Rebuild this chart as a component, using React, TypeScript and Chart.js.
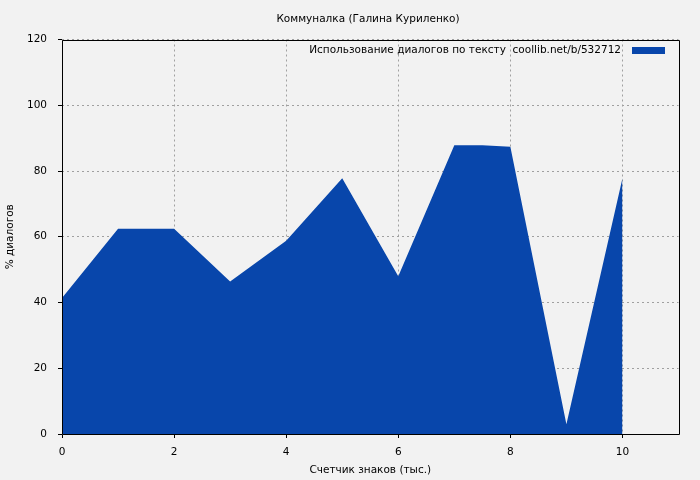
import React, { useEffect, useRef } from 'react';
import { Chart, ChartConfiguration, Plugin, registerables } from 'chart.js';

Chart.register(...registerables);

const chartTitle = 'Коммуналка (Галина Куриленко)';
const seriesLabel = 'Использование диалогов по тексту  coollib.net/b/532712';
const xAxisTitle = 'Счетчик знаков (тыс.)';
const yAxisTitle = '% диалогов';

// thousands of characters
const charCounts = [0, 1, 2, 3, 4, 5, 6, 7, 7.5, 8, 9, 10];
// percent of dialogue
const dialogPercent = [41.4, 62.4, 62.4, 46.4, 58.8, 77.8, 48.0, 87.8, 87.8, 87.4, 3.0, 77.8];

const xTicks = [0, 2, 4, 6, 8, 10];
const yTicks = [0, 20, 40, 60, 80, 100, 120];

const FONT = 'DejaVu Sans';
const FONT_SIZE = 10.5;
const FILL = '#0846ab';

const px = (v: number) => Math.round(v) + 0.5;

// gnuplot-like frame, title and key drawn on top
const framePlugin: Plugin<'line'> = {
  id: 'frame',
  afterDatasetsDraw(chart) {
    const { ctx, chartArea } = chart;
    const l = px(chartArea.left);
    const t = px(chartArea.top);
    const r = px(chartArea.right);
    const b = px(chartArea.bottom);
    ctx.save();
    ctx.strokeStyle = '#000';
    ctx.lineWidth = 1;
    ctx.beginPath();
    ctx.moveTo(l, t);
    ctx.lineTo(r, t);
    ctx.lineTo(r, b);
    ctx.lineTo(l, b);
    ctx.closePath();
    ctx.stroke();

    ctx.fillStyle = '#000';
    ctx.font = `${FONT_SIZE}px "${FONT}"`;
    ctx.textBaseline = 'middle';
    ctx.textAlign = 'center';
    ctx.fillText(chartTitle, 368, 19);

    ctx.textAlign = 'right';
    ctx.fillText(seriesLabel, 621, 50);
    ctx.fillStyle = FILL;
    ctx.fillRect(632, 47, 33, 7);
    ctx.restore();
  },
};

export default function App() {
  const canvasRef = useRef<HTMLCanvasElement>(null);

  useEffect(() => {
    if (!canvasRef.current) return;
    const ctx = canvasRef.current.getContext('2d');
    if (!ctx) return;

    const font = { family: FONT, size: FONT_SIZE };

    const config: ChartConfiguration<'line'> = {
      type: 'line',
      data: {
        datasets: [
          {
            label: seriesLabel,
            data: charCounts.map((x, i) => ({ x, y: dialogPercent[i] })),
            backgroundColor: FILL,
            borderColor: FILL,
            borderWidth: 0,
            fill: 'origin',
            pointRadius: 0,
            tension: 0,
          },
        ],
      },
      options: {
        responsive: false,
        animation: false,
        layout: { padding: { top: 39.5, right: 21.5, bottom: 0, left: 0 } },
        plugins: {
          legend: { display: false },
          title: { display: false },
          tooltip: { enabled: false },
        },
        scales: {
          x: {
            type: 'linear',
            min: 0,
            max: 11,
            afterBuildTicks: (scale) => {
              scale.ticks = xTicks.map((value) => ({ value }));
            },
            afterFit: (scale) => {
              scale.height = 46;
            },
            grid: {
              color: '#a0a0a0',
              tickColor: '#000',
              tickLength: 4,
              tickBorderDash: [],
            },
            border: { display: false, dash: [2, 3] },
            ticks: { color: '#000', padding: 8, font, maxRotation: 0 },
            title: {
              display: true,
              text: xAxisTitle,
              color: '#000',
              font,
              padding: { top: 0, bottom: 3 },
            },
          },
          y: {
            type: 'linear',
            min: 0,
            max: 120,
            afterBuildTicks: (scale) => {
              scale.ticks = yTicks.map((value) => ({ value }));
            },
            afterFit: (scale) => {
              scale.width = 62;
            },
            grid: {
              color: '#a0a0a0',
              tickColor: '#000',
              tickLength: 4,
              tickBorderDash: [],
            },
            border: { display: false, dash: [2, 3] },
            ticks: { color: '#000', padding: 11, font },
            title: {
              display: true,
              text: yAxisTitle,
              color: '#000',
              font,
              padding: { top: 4, bottom: 0 },
            },
          },
        },
      },
      plugins: [framePlugin],
    };

    const chart = new Chart(ctx, config);
    return () => chart.destroy();
  }, []);

  return (
    <div style={{ position: 'absolute', left: 0, top: 0, width: 700, height: 480, background: '#f2f2f2' }}>
      <canvas ref={canvasRef} width={700} height={480} />
    </div>
  );
}
